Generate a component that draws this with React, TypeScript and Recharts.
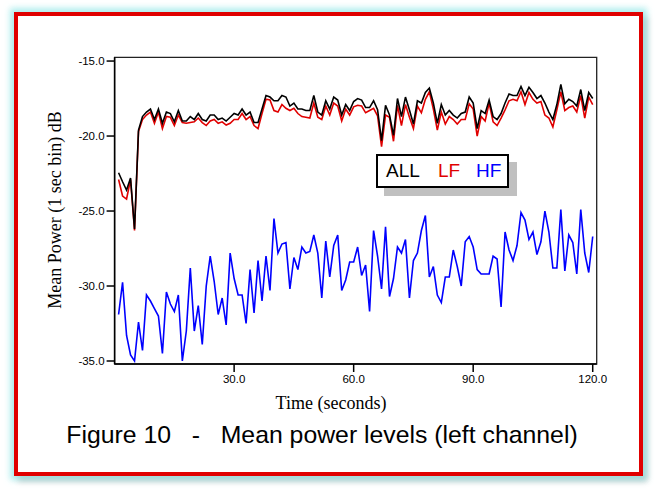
import React from "react";
import { LineChart, Line, XAxis, YAxis, Label, ReferenceArea } from "recharts";

// seconds (1 sec bins)
const seconds = [
  1, 2, 3, 4, 5, 6, 7, 8, 9, 10, 11, 12, 13, 14, 15, 16, 17, 18, 19, 20,
  21, 22, 23, 24, 25, 26, 27, 28, 29, 30, 31, 32, 33, 34, 35, 36, 37, 38, 39, 40,
  41, 42, 43, 44, 45, 46, 47, 48, 49, 50, 51, 52, 53, 54, 55, 56, 57, 58, 59, 60,
  61, 62, 63, 64, 65, 66, 67, 68, 69, 70, 71, 72, 73, 74, 75, 76, 77, 78, 79, 80,
  81, 82, 83, 84, 85, 86, 87, 88, 89, 90, 91, 92, 93, 94, 95, 96, 97, 98, 99, 100,
  101, 102, 103, 104, 105, 106, 107, 108, 109, 110, 111, 112, 113, 114, 115, 116, 117, 118, 119, 120,
];

const allBand = [
  -22.45, -23.05, -23.6, -22.8, -26.2, -19.6, -18.7, -18.4, -18.2, -18.9,
  -18.2, -19.15, -18.4, -18.5, -19.05, -18.3, -19.0, -19.0, -18.7, -18.9,
  -18.5, -18.9, -19.0, -18.6, -18.6, -18.9, -18.8, -19.0, -18.75, -18.5,
  -18.6, -18.2, -18.6, -18.4, -19.1, -19.1, -18.2, -17.3, -17.4, -17.65,
  -17.65, -17.3, -17.4, -18.0, -17.8, -18.2, -18.2, -18.3, -18.3, -17.3,
  -18.4, -18.6, -17.65, -18.2, -17.4, -17.6, -18.6, -17.9, -18.3, -17.7,
  -17.5, -17.6, -18.1, -18.1, -17.65, -18.25, -20.3, -17.95, -18.6, -19.95,
  -17.5, -18.7, -17.4, -18.27, -19.2, -17.65, -17.8, -17.1, -16.8, -17.8,
  -19.15, -17.9, -18.6, -18.3, -18.6, -18.8, -18.5, -18.4, -17.4, -17.8,
  -19.5, -18.3, -18.5, -17.6, -18.7, -18.9, -18.5, -17.8, -17.2, -17.3,
  -17.3, -16.7, -17.3, -16.75, -17.1, -17.5, -17.3, -17.8, -18.4, -18.9,
  -17.9, -16.55, -17.85, -17.55, -17.7, -18.0, -16.9, -18.3, -17.1, -17.5,
];

const lfBand = [
  -22.9, -24.0, -24.2, -22.9, -26.3, -19.7, -18.9, -18.6, -18.4, -19.15,
  -18.4, -19.5, -18.7, -18.75, -19.3, -18.6, -19.1, -19.15, -19.1, -19.05,
  -18.8, -19.1, -19.3, -19.0, -18.9, -19.15, -19.05, -19.27, -19.15, -18.9,
  -18.9, -18.5, -18.9, -18.7, -19.3, -19.5, -18.5, -17.55, -17.6, -18.3,
  -18.4, -17.9, -18.15, -18.3, -18.15, -18.5, -18.7, -18.75, -18.8, -17.8,
  -18.75, -18.9, -18.0, -18.6, -17.8, -18.0, -19.0, -18.2, -18.6, -18.05,
  -17.95, -18.0, -18.45, -18.3, -18.15, -18.65, -20.7, -18.6, -18.75, -20.35,
  -17.95, -19.3, -17.9, -18.75, -19.5, -18.0, -18.45, -17.55, -17.05, -18.2,
  -19.6, -18.4, -19.2, -18.7, -18.9, -19.2, -18.9, -18.9, -17.85, -18.2,
  -20.0, -18.7, -19.0, -17.8, -19.05, -19.3, -18.8, -18.25, -17.65, -17.55,
  -17.65, -17.05, -17.9, -17.1, -17.55, -17.8, -17.7, -18.6, -18.8, -19.4,
  -18.25, -17.05, -18.3, -18.1, -18.0, -18.4, -17.3, -18.8, -17.4, -17.9,
];

const hfBand = [
  -31.9, -29.75, -33.3, -34.6, -35.0, -32.4, -34.3, -30.6, -31.0, -31.5,
  -32.0, -34.5, -30.4, -31.2, -31.7, -30.6, -35.0, -33.0, -28.8, -33.0,
  -31.3, -33.9, -30.0, -28.0, -29.7, -31.9, -30.8, -32.6, -27.8, -29.5,
  -30.6, -30.6, -32.5, -28.9, -31.8, -28.3, -31.0, -28.0, -30.3, -25.5,
  -27.8, -27.2, -27.1, -30.2, -28.1, -28.9, -27.4, -27.8, -27.7, -26.6,
  -27.8, -30.8, -27.0, -29.4, -27.3, -26.6, -30.3, -29.6, -28.4, -28.4,
  -27.4, -29.3, -28.6, -31.7, -26.3, -28.0, -30.2, -26.05, -30.7, -29.5,
  -27.4, -27.8, -26.9, -30.8, -28.3, -27.8, -26.3, -25.3, -29.4, -28.7,
  -30.6, -31.1, -29.4, -29.4, -27.6, -28.7, -30.0, -27.05, -26.7, -27.4,
  -28.9, -29.2, -29.2, -29.2, -28.0, -28.2, -31.4, -26.4, -27.6, -28.3,
  -27.3, -25.1, -25.6, -26.9, -26.4, -27.9, -27.05, -25.0, -26.4, -28.8,
  -28.8, -24.9, -29.0, -26.6, -27.1, -29.2, -24.9, -27.8, -29.1, -26.7,
];

const xTicks = [30, 60, 90, 120];
const yTicks = [-35, -30, -25, -20, -15];
const xDomain = [0, 121];
const yDomain = [-35.2, -14.75];

const data = seconds.map((t, i) => ({
  t,
  all: allBand[i],
  lf: lfBand[i],
  hf: hfBand[i],
}));

const sans = "'Liberation Sans', Arial, sans-serif";
const serif = "'Liberation Serif', 'Times New Roman', serif";

export default function App() {
  return (
    <div style={{ position: "absolute", left: 0, top: 0, width: 655, height: 489, background: "#fff" }}>
      <div
        style={{
          position: "absolute",
          left: 14,
          top: 12,
          width: 629,
          height: 464,
          boxSizing: "border-box",
          border: "4px solid #e00000",
          background: "#fff",
          boxShadow: "0 0 6px 4px rgba(150, 232, 232, 0.75), 4px 5px 6px rgba(0,0,0,0.25)",
        }}
      />
      <div style={{ position: "absolute", left: 0, top: 0 }}>
        <LineChart
          width={655}
          height={489}
          data={data}
          margin={{ top: 57.3, right: 58.3, bottom: 95, left: 54.6 }}
        >
          <XAxis
            dataKey="t"
            type="number"
            domain={xDomain}
            ticks={xTicks}
            tickFormatter={(v: number) => v.toFixed(1)}
            height={30}
            tickSize={8}
            tickMargin={3}
            stroke="#000"
            strokeWidth={1.5}
            tick={{ fill: "#000", fontSize: 11.5, fontFamily: sans }}
          >
            <Label
              content={() => (
                <text x={331} y={409} textAnchor="middle" fontFamily={serif} fontSize={18} fill="#000">
                  Time (seconds)
                </text>
              )}
            />
          </XAxis>
          <YAxis
            type="number"
            domain={yDomain}
            ticks={yTicks}
            tickFormatter={(v: number) => v.toFixed(1)}
            width={60}
            tickSize={8}
            tickMargin={2}
            stroke="#000"
            strokeWidth={1.5}
            tick={{ fill: "#000", fontSize: 11.5, fontFamily: sans }}
          >
            <Label
              content={() => (
                <text
                  x={55}
                  y={210}
                  textAnchor="middle"
                  dominantBaseline="central"
                  transform="rotate(-90 55 210)"
                  fontFamily={serif}
                  fontSize={18}
                  fill="#000"
                >
                  Mean Power (1 sec bin) dB
                </text>
              )}
            />
          </YAxis>
          {/* plot frame (top and right edges) */}
          <ReferenceArea
            x1={xDomain[0]}
            x2={xDomain[1]}
            y1={yDomain[0]}
            y2={yDomain[1]}
            fill="none"
            fillOpacity={0}
            stroke="#222"
            strokeWidth={1.3}
            isAnimationActive={false}
          />
          <Line dataKey="hf" stroke="#0000ff" strokeWidth={1.6} dot={false} isAnimationActive={false} />
          <Line dataKey="lf" stroke="#e00000" strokeWidth={1.6} dot={false} isAnimationActive={false} />
          <Line dataKey="all" stroke="#000000" strokeWidth={1.6} dot={false} isAnimationActive={false} />
        </LineChart>
      </div>
      <div
        style={{
          position: "absolute",
          left: 376,
          top: 154,
          width: 133,
          height: 34,
          boxSizing: "border-box",
          border: "2px solid #000",
          background: "#fff",
          boxShadow: "8px 8px 0 #c0c0c0",
          fontFamily: sans,
          fontSize: 19,
          lineHeight: "30px",
        }}
      >
        <span style={{ position: "absolute", left: 8, color: "#000" }}>ALL</span>
        <span style={{ position: "absolute", left: 60, color: "#e00000" }}>LF</span>
        <span style={{ position: "absolute", left: 98, color: "#0000ff" }}>HF</span>
      </div>
      <div
        style={{
          position: "absolute",
          left: 0,
          width: 644,
          top: 421,
          textAlign: "center",
          whiteSpace: "pre",
          fontFamily: sans,
          fontSize: 24.8,
          color: "#000",
        }}
      >
        {"Figure 10   -   Mean power levels (left channel)"}
      </div>
    </div>
  );
}
